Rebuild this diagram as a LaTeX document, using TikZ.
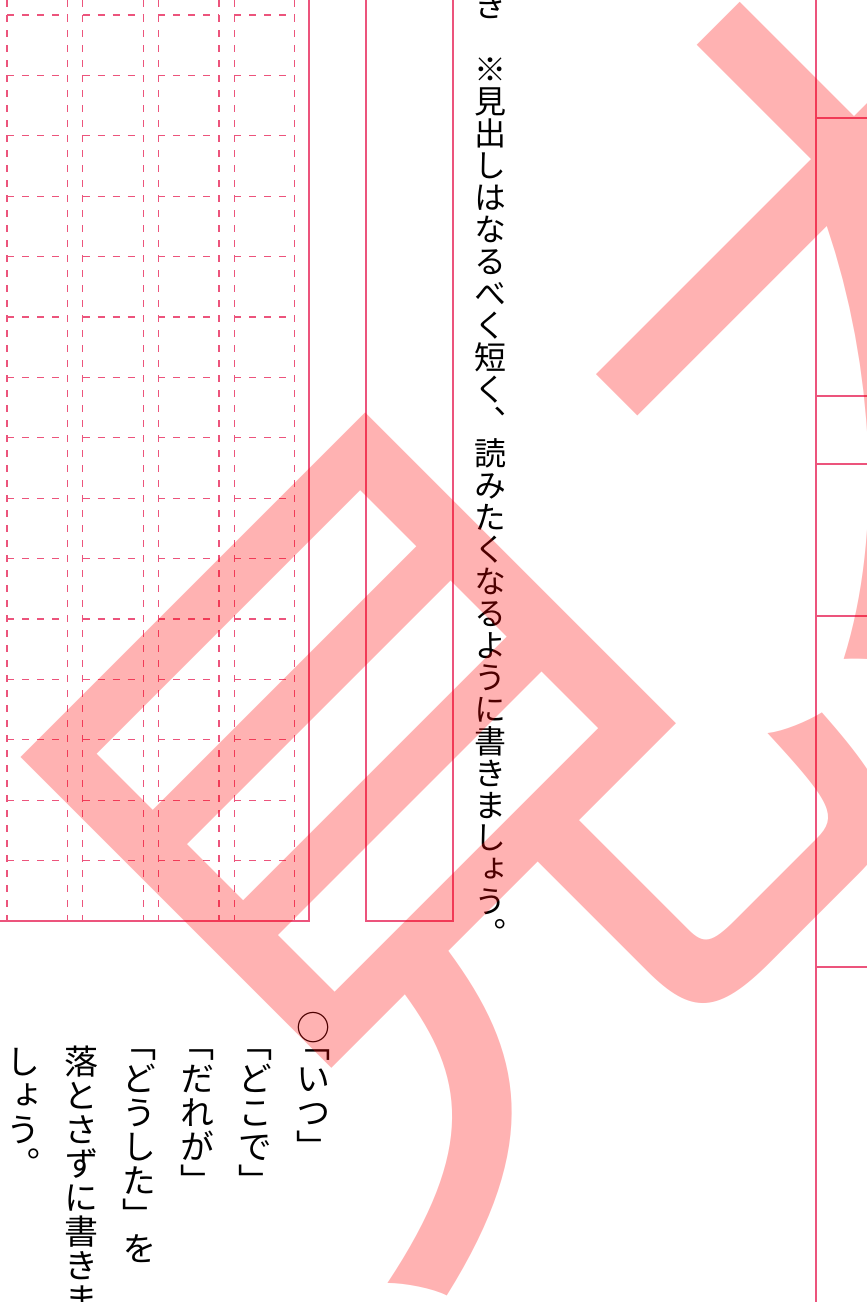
\documentclass[tikz,border=0pt]{standalone}
\usepackage{fontspec}
\newfontfamily\cjk{Noto Sans CJK JP}
\newfontfamily\tate[RawFeature=+vert]{Noto Sans CJK JP}
\usetikzlibrary{positioning}

\definecolor{keisen}{RGB}{236,84,124}

\tikzset{
	masu/.style={keisen, line width=0.6pt, dash pattern=on 3.5pt off 4pt},
	waku/.style={keisen, line width=0.6pt},
	midashi/.style={font=\tate\fontsize{16pt}{16pt}\selectfont, inner sep=0pt, anchor=base},
	honbun/.style={font=\tate\fontsize{17pt}{17pt}\selectfont, inner sep=0pt, anchor=base},
	mihon/.style={font=\cjk\fontsize{385pt}{385pt}\selectfont, text=red, opacity=.3, inner sep=0pt, rotate=45}
}

\begin{document}
\begin{tikzpicture}[x=0.5pt,y=-0.5pt]
	\useasboundingbox (0,0) rectangle (867,1302);
	\clip (0,0) rectangle (867,1302);

	% genkou grid
	\foreach \c in {0,...,3} {
		\draw[masu] (7+75.7*\c,0) -- (7+75.7*\c,921);
		\draw[masu] (67.5+75.7*\c,0) -- (67.5+75.7*\c,921);
		\foreach \r in {0,...,14}
			\draw[masu] (7+75.7*\c,15+60.4*\r) -- (67.5+75.7*\c,15+60.4*\r);
	}
	\draw[waku] (-5,-5) rectangle (309,921);
	\draw[waku] (366,-5) rectangle (453,921);

	% right side boxes
	\draw[waku] (816,-5) -- (816,1310);
	\foreach \y in {118,396,464,616,967}
		\draw[waku] (816,\y) -- (875,\y);

	% heading note
	\foreach \ch [count=\i from 0] in {き,　,※,見,出,し,は,な,る,べ,く,短,く,、,読,み,た,く,な,る,よ,う,に,書,き,ま,し,ょ,う,。}
		\node[midashi] (m\i) at (490,5.5+32*\i+12.2) {\ch};

	% body note
	\foreach \ch/\k [count=\i] in {○/0,「/0.5,い/1.5,つ/2.5,」/3.5}
		\node[honbun] (a\i) at (313,1028+34*\k+12.9) {\ch};
	\foreach \ch/\k [count=\i] in {「/0.5,ど/1.5,こ/2.5,で/3.5,」/4.5}
		\node[honbun] (b\i) at (255,1028+34*\k+12.9) {\ch};
	\foreach \ch/\k [count=\i] in {「/0.5,だ/1.5,れ/2.5,が/3.5,」/4.5}
		\node[honbun] (c\i) at (197,1028+34*\k+12.9) {\ch};
	\foreach \ch/\k [count=\i] in {「/0.5,ど/1.5,う/2.5,し/3.5,た/4.5,」/5.5,を/6.5}
		\node[honbun] (d\i) at (139,1028+34*\k+12.9) {\ch};
	\foreach \ch [count=\i] in {落,と,さ,ず,に,書,き,ま}
		\node[honbun] (e\i) at (81,1028+34*\i+12.9) {\ch};
	\foreach \ch [count=\i] in {し,ょ,う,。}
		\node[honbun] (f\i) at (23,1028+34*\i+12.9) {\ch};

	% watermark
	\node[mihon] (wm) at (697,546) {見本};
\end{tikzpicture}
\end{document}
